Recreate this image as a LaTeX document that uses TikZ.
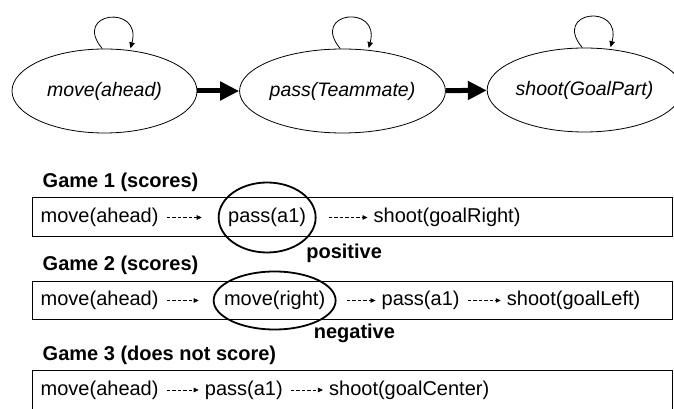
\documentclass[tikz,border=0pt]{standalone}
\usepackage{fontspec}
\setmainfont{Liberation Sans}
\usetikzlibrary{arrows.meta,positioning,shapes.geometric}
\tikzset{
	state/.style = {
		ellipse,
		draw,
		line width     = 0.8pt,
		minimum height = 84pt,
		inner sep      = 0pt,
		font           = \fontsize{19.5}{23}\selectfont\itshape
	},
	seqbox/.style    = {draw, line width = 1pt, minimum width = 640pt, inner sep = 0pt},
	act/.style       = {inner sep = 0pt, font = \fontsize{20}{23}\selectfont},
	hilite/.style    = {ellipse, draw, line width = 1.8pt, inner sep = -20pt, font = \fontsize{20}{23}\selectfont},
	gamelabel/.style = {anchor = west, inner sep = 0pt, font = \fontsize{20}{23}\selectfont\bfseries},
	verdict/.style   = {inner sep = 0pt, font = \fontsize{20}{23}\selectfont\bfseries},
	bigstep/.style   = {line width = 5pt, -{Triangle[length=19pt, width=18pt]}},
	selfloop/.style  = {line width = 0.8pt, -{Triangle[length=6pt, width=5.5pt]}, shorten > = 2pt},
	dashto/.style    = {
		line width   = 0.6pt,
		dash pattern = on 3.5pt off 2pt,
		-{Triangle[length=5pt, width=4.5pt]},
		shorten <    = 8pt,
		shorten >    = 6pt
	}
}

\begin{document}
\begin{tikzpicture}[x=1pt, y=1pt]
	\useasboundingbox (0,0) rectangle (674,409);
	% action graph
	\node[state, minimum width=185pt] (s1) at (104.5,318) {move(ahead)};
	\node[state, minimum width=205pt] (s2) at (342.5,318) {pass(Teammate)};
	\node[state, minimum width=177pt] (s3) at (584.5,319) {shoot(GoalPart)};
	\draw[bigstep] (s1) -- (s2);
	\draw[bigstep] (s2) -- (s3);
	\foreach \s in {s1,s2,s3}
		\draw[selfloop] (\s.93) to[out=130, in=75, distance=48pt] (\s.58);
	
	% game traces
	\node[seqbox, minimum height=39pt] (box1) at (352,191.5) {};
	\node[seqbox, minimum height=38pt] (box2) at (352,108.5) {};
	\node[seqbox, minimum height=42pt] (box3) at (352,17) {};
	\node[gamelabel] (game1) at ([shift={(11,15.5)}]box1.north west) {Game 1 (scores)};
	\node[gamelabel] (game2) at ([shift={(11,15.5)}]box2.north west) {Game 2 (scores)};
	\node[gamelabel] (game3) at ([shift={(11,15.5)}]box3.north west) {Game 3 (does not score)};
	
	% game 1
	\node[act, right=9pt of box1.west] (m1) {move(ahead)};
	\node[hilite, minimum width=97pt, minimum height=70pt, right=59pt of m1] (p1) {pass(a1)};
	\node[act, right=57pt of p1] (g1) {shoot(goalRight)};
	\draw[dashto, shorten > = 16pt] (m1) -- (p1);
	\draw[dashto, shorten < = 12pt] (p1) -- (g1);
	\node[verdict, right=39pt of p1.south] (pos) {positive};
	
	% game 2
	\node[act, right=9pt of box2.west] (m2) {move(ahead)};
	\node[hilite, minimum width=122pt, minimum height=58pt, right=54pt of m2] (p2) {move(right)};
	\node[act, right=45pt of p2] (q2) {pass(a1)};
	\node[act, right=47pt of q2] (g2) {shoot(goalLeft)};
	\draw[dashto, shorten > = 14pt] (m2) -- (p2);
	\draw[dashto, shorten < = 10pt] (p2) -- (q2);
	\draw[dashto] (q2) -- (g2);
	\node[verdict, right=39pt of p2.south, yshift=-3pt] (neg) {negative};
	
	% game 3
	\node[act, right=9pt of box3.west, yshift=2pt] (m3) {move(ahead)};
	\node[act, right=46pt of m3] (q3) {pass(a1)};
	\node[act, right=46pt of q3] (g3) {shoot(goalCenter)};
	\draw[dashto] (m3) -- (q3);
	\draw[dashto] (q3) -- (g3);
\end{tikzpicture}
\end{document}
